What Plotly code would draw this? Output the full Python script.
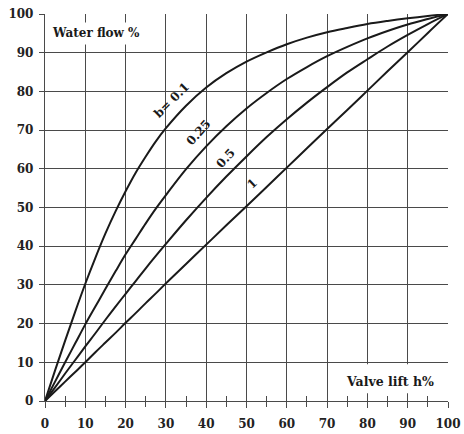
import plotly.graph_objects as go

# Valve lift h% (x) and water flow % (y)
lift = [0, 2.5, 5, 7.5, 10, 12.5, 15, 17.5, 20, 22.5, 25, 27.5, 30, 35, 40, 45, 50, 55, 60, 65, 70, 75, 80, 85, 90, 95, 100]
flow_b01 = [0, 7.9, 15.6, 23.1, 30.3, 37.0, 43.3, 49.0, 54.2, 59.0, 63.2, 67.1, 70.5, 76.3, 81.0, 84.7, 87.7, 90.1, 92.2, 93.9, 95.3, 96.4, 97.4, 98.2, 98.9, 99.5, 100]
flow_b025 = [0, 5.0, 10, 14.9, 19.8, 24.4, 29, 33.5, 37.9, 41.9, 45.9, 49.7, 53.2, 59.9, 65.8, 71.0, 75.6, 79.6, 83.2, 86.3, 89.1, 91.5, 93.7, 95.6, 97.3, 98.7, 100]
flow_b05 = [0, 3.5, 7.1, 10.6, 14.1, 17.5, 21, 24.4, 27.7, 31.0, 34.3, 37.5, 40.6, 46.7, 52.5, 58, 63.2, 68.2, 72.8, 77.1, 81.1, 84.9, 88.3, 91.6, 94.6, 97.4, 100]
flow_b1 = [0, 2.5, 5, 7.5, 10, 12.6, 15.1, 17.6, 20.2, 22.7, 25.3, 27.8, 30.4, 35.4, 40.4, 45.4, 50.3, 55.3, 60.3, 65.3, 70.3, 75.2, 80.2, 85.2, 90.1, 95.1, 100]

series = [flow_b01, flow_b025, flow_b05, flow_b1]
curve_labels = ["b= 0.1", "0.25", "0.5", "1"]
label_pos = [(31.5, 77.7, -45), (38.0, 69.3, -48), (44.9, 62.8, -47), (51.3, 56.1, -44)]

tick_vals = [0, 10, 20, 30, 40, 50, 60, 70, 80, 90, 100]
tick_text = [str(v) for v in tick_vals]
minor_vals = [5, 15, 25, 35, 45, 55, 65, 75, 85, 95]

FONT = "DejaVu Serif"
INK = "#1a1a1a"
GRID = "#4a4a4a"

fig = go.Figure()
for ys in series:
    fig.add_trace(go.Scatter(x=lift, y=ys, mode="lines", line=dict(color=INK, width=2, shape="spline", smoothing=1.0),
                             showlegend=False, hoverinfo="skip"))
# invisible trace for the overlay axis carrying inside minor ticks
fig.add_trace(go.Scatter(x=[0, 100], y=[0, 100], xaxis="x2", mode="lines", line=dict(width=0),
                         showlegend=False, hoverinfo="skip"))

for text, (x, y, ang) in zip(curve_labels, label_pos):
    fig.add_annotation(x=x, y=y, text=text, textangle=ang, showarrow=False,
                       font=dict(family=FONT, size=12, color=INK, weight="bold"))

# white boxes behind the axis titles
fig.add_shape(type="rect", x0=1.2, x1=24.7, y0=92.1, y1=97.8, fillcolor="white", line=dict(width=0), layer="above")
fig.add_shape(type="rect", x0=73.3, x1=98.0, y0=2.0, y1=9.5, fillcolor="white", line=dict(width=0), layer="above")
fig.add_annotation(x=12.6, y=95.1, text="Water flow %", showarrow=False,
                   font=dict(family=FONT, size=12, color=INK, weight="bold"))
fig.add_annotation(x=85.7, y=5.0, text="Valve lift h%", showarrow=False,
                   font=dict(family=FONT, size=12.5, color=INK, weight="bold"))

axis_font = dict(family=FONT, size=12, color="#222", weight="bold")
fig.update_layout(
    width=464, height=434,
    margin=dict(l=45, r=16, t=14, b=33),
    paper_bgcolor="white", plot_bgcolor="white",
    xaxis=dict(range=[0, 100], tickvals=tick_vals, ticktext=tick_text, showgrid=True, gridcolor=GRID, gridwidth=1.3,
               zeroline=False, showline=True, linecolor=GRID, linewidth=1.3, ticks="outside", ticklen=6,
               tickcolor=GRID, tickwidth=1.3, tickfont=axis_font, ticklabelstandoff=5, automargin=False,
               minor=dict(tickvals=minor_vals, ticks="outside", ticklen=5, tickcolor=GRID, tickwidth=1.2, showgrid=False)),
    xaxis2=dict(range=[0, 100], overlaying="x", side="bottom", tickvals=minor_vals, ticks="inside", ticklen=5,
                tickcolor=GRID, tickwidth=1.2, showticklabels=False, showgrid=False, zeroline=False, showline=False,
                automargin=False),
    yaxis=dict(range=[0, 100], tickvals=tick_vals, ticktext=tick_text, showgrid=True, gridcolor=GRID, gridwidth=1.3,
               zeroline=False, showline=True, linecolor=GRID, linewidth=1.3, ticks="outside", ticklen=5,
               tickcolor=GRID, tickwidth=1.3, tickfont=axis_font, ticklabelstandoff=3, automargin=False),
)

fig.write_html("out.html")
